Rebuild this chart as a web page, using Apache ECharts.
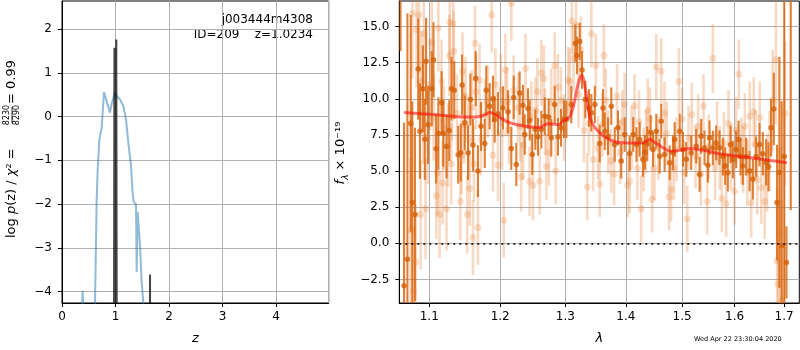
<!DOCTYPE html>
<html>
<head>
<meta charset="utf-8">
<script src="https://cdn.jsdelivr.net/npm/echarts@6/dist/echarts.min.js"></script>
<style>
  html, body { margin: 0; padding: 0; background: #fff; }
  #main { width: 800px; height: 350px; }
</style>
</head>
<body>
<div id="main"></div>
<script type="text/javascript">
// ---- left panel: log p(z) ----
var pzZ = [0.30, 0.37, 0.385, 0.40, 0.46, 0.55, 0.617, 0.648, 0.667, 0.70, 0.742, 0.785, 0.80, 0.84, 0.897, 0.93, 0.99, 1.034, 1.084, 1.116, 1.146, 1.196, 1.24, 1.29, 1.32, 1.34, 1.383, 1.396, 1.414, 1.44, 1.458, 1.49, 1.53, 1.60];
var pzLog = [-8, -4.5, -3.98, -4.5, -8, -8, -4.3, -1.9, -1.2, -0.52, -0.25, 0.56, 0.55, 0.33, 0.09, 0.3, 0.55, 0.45, 0.39, 0.35, 0.24, -0.06, -0.6, -1.12, -1.75, -1.95, -2.0, -3.55, -2.18, -2.2, -2.94, -3.8, -4.4, -8];
var spikeZ = [0.965, 0.98, 0.995, 1.0, 1.015, 1.03, 1.63, 1.645, 1.66];
var spikeLog = [-10, 1.57, -10, -10, 1.76, -10, -10, -3.61, -10];
var pzTicks = [-4, -3, -2, -1, 0, 1, 2];

// ---- right panel: spectrum ----
var darkLam = [1.0619, 1.0665, 1.0709, 1.0753, 1.0774, 1.0809, 1.0852, 1.0875, 1.0914, 1.0940,
  1.0957, 1.0983, 1.1034, 1.1057, 1.1093, 1.1124, 1.1168, 1.1191, 1.1236, 1.1273,
  1.1304, 1.1342, 1.1397, 1.1434, 1.1452, 1.1490, 1.1536, 1.1569, 1.1606, 1.1645,
  1.1677, 1.1721, 1.1775, 1.1797, 1.1846, 1.1894, 1.1919, 1.1968, 1.2041, 1.2116,
  1.2165, 1.2201, 1.2240, 1.2290, 1.2340, 1.2367, 1.2417, 1.2443, 1.2482, 1.2529,
  1.2570, 1.2622, 1.2674, 1.2736, 1.2776, 1.2830, 1.2882, 1.2930, 1.2977, 1.3016,
  1.3094, 1.3160, 1.3186, 1.3230, 1.3268, 1.3321, 1.3382, 1.3420, 1.3478, 1.3559,
  1.3614, 1.3643, 1.3698, 1.3753, 1.3811, 1.3866, 1.3922, 1.3981, 1.4066, 1.4128,
  1.4185, 1.4240, 1.4297, 1.4332, 1.4373, 1.4433, 1.4474, 1.4533, 1.4594, 1.4622,
  1.4683, 1.4774, 1.4834, 1.4865, 1.4956, 1.5017, 1.5078, 1.5170, 1.5263, 1.5326,
  1.5356, 1.5420, 1.5483, 1.5515, 1.5578, 1.5641, 1.5706, 1.5770, 1.5815, 1.5867,
  1.5920, 1.5965, 1.6030, 1.6077, 1.6116, 1.6162, 1.6228, 1.6296, 1.6362, 1.6428,
  1.6496, 1.6562, 1.6630, 1.6678, 1.6731, 1.6787, 1.6854, 1.6903, 1.6951, 1.7004,
  1.7050, 1.7140];
var darkFlux = [20, -2.93, -1.1, 8.3, 2.82, 2.0, 12.06, 7.76, 10.7, 7.2,
  12.6, 8.2, 10.7, 12.7, 6.54, 7.6, 9.72, 7.6, 6.7, 7.8,
  10.7, 10.6, 6.13, 6.27, 10.96, 8.34, 6.27, 9.95, 6.8, 11.4,
  5.0, 8.1, 6.91, 10.59, 9.49, 10.0, 8.57, 8.96, 9.37, 9.1,
  6.57, 10.1, 5.46, 10.4, 9.56, 7.53, 9.33, 8.52, 6.15, 7.87,
  7.37, 7.87, 8.8, 8.75, 7.3, 9.6, 7.37, 8.0, 8.6, 8.57,
  9.6, 13.85, 13.0, 13.97, 12.0, 9.95, 9.37, 9.03, 9.6, 6.91,
  9.37, 7.76, 7.41, 9.49, 6.84, 7.99, 5.69, 7.53, 6.22, 7.53,
  6.84, 7.19, 5.81, 6.3, 6.88, 7.69, 6.49, 7.76, 6.03, 8.45,
  6.15, 5.58, 6.27, 7.19, 7.76, 6.5, 5.81, 6.27, 6.72, 4.77,
  7.41, 6.6, 5.4, 7.3, 6.6, 6.95, 6.61, 6.0, 5.35, 4.89,
  6.84, 5.8, 6.5, 7.19, 6.0, 5.35, 6.0, 5.0, 4.43, 6.0,
  6.84, 6.2, 5.6, 5.3, 8.0, 9.3, 2.82, 4.9, -0.17, 6,
  -1.32, 18];
var darkErr = [6.7, 11.3, 17, 7.5, 7, 6, 3.5, 3.3, 3.0, 2.8,
  3.0, 2.7, 2.6, 2.6, 2.4, 2.5, 2.2, 2.3, 2.2, 2.1,
  2.2, 2.0, 2.0, 2.0, 2.1, 1.9, 1.9, 1.8, 1.8, 1.9,
  1.8, 1.7, 1.7, 1.7, 1.6, 1.6, 1.6, 1.5, 1.5, 1.5,
  1.5, 1.5, 1.5, 1.5, 1.4, 1.4, 1.4, 1.4, 1.4, 1.4,
  1.3, 1.3, 1.3, 1.3, 1.3, 1.3, 1.3, 1.3, 1.3, 1.3,
  1.3, 1.3, 1.3, 1.3, 1.3, 1.3, 1.3, 1.3, 1.3, 1.3,
  1.3, 1.3, 1.3, 1.3, 1.2, 1.2, 1.2, 1.2, 1.2, 1.2,
  1.2, 1.2, 1.2, 1.2, 1.2, 1.2, 1.2, 1.2, 1.2, 1.2,
  1.2, 1.2, 1.2, 1.2, 1.2, 1.2, 1.2, 1.2, 1.2, 1.2,
  1.2, 1.2, 1.2, 1.2, 1.2, 1.2, 1.2, 1.3, 1.3, 1.3,
  1.3, 1.3, 1.3, 1.3, 1.3, 1.3, 1.3, 1.4, 1.4, 1.4,
  1.5, 1.5, 1.6, 1.7, 2.0, 2.5, 4, 8, 10, 12,
  2.5, 15.7];

var lightLam = [1.0752, 1.0774, 1.0790, 1.0817, 1.0830, 1.0862, 1.0884, 1.0890, 1.0920, 1.0926,
  1.0950, 1.0980, 1.1010, 1.1034, 1.1060, 1.1095, 1.1110, 1.1124, 1.1140, 1.1168,
  1.1182, 1.1200, 1.1236, 1.1255, 1.1273, 1.1280, 1.1300, 1.1310, 1.1326, 1.1337,
  1.1380, 1.1428, 1.1445, 1.1458, 1.1480, 1.1500, 1.1525, 1.1540, 1.1560, 1.1590,
  1.1606, 1.1620, 1.1635, 1.1650, 1.1677, 1.1700, 1.1720, 1.1780, 1.1820, 1.1875,
  1.1894, 1.1930, 1.1968, 1.2010, 1.2030, 1.2052, 1.2077, 1.2100, 1.2130, 1.2165,
  1.2200, 1.2265, 1.2300, 1.2313, 1.2345, 1.2378, 1.2440, 1.2470, 1.2493, 1.2530,
  1.2560, 1.2596, 1.2622, 1.2660, 1.2680, 1.2700, 1.2740, 1.2776, 1.2830, 1.2845,
  1.2880, 1.2930, 1.2980, 1.3043, 1.3070, 1.3104, 1.3130, 1.3171, 1.3210, 1.3250,
  1.3300, 1.3355, 1.3380, 1.3420, 1.3450, 1.3495, 1.3530, 1.3559, 1.3600, 1.3628,
  1.3660, 1.3700, 1.3750, 1.3800, 1.3850, 1.3900, 1.3940, 1.3980, 1.4030, 1.4065,
  1.4100, 1.4150, 1.4200, 1.4230, 1.4265, 1.4310, 1.4350, 1.4380, 1.4420, 1.4460,
  1.4500, 1.4533, 1.4570, 1.4622, 1.4680, 1.4720, 1.4762, 1.4800, 1.4850, 1.4900,
  1.4942, 1.5000, 1.5040, 1.5096, 1.5120, 1.5180, 1.5250, 1.5300, 1.5350, 1.5400,
  1.5470, 1.5500, 1.5578, 1.5620, 1.5660, 1.5710, 1.5750, 1.5790, 1.5835, 1.5880,
  1.5930, 1.5998, 1.6030, 1.6082, 1.6130, 1.6170, 1.6200, 1.6250, 1.6300, 1.6329,
  1.6380, 1.6410, 1.6450, 1.6500, 1.6530, 1.6600, 1.6650, 1.6700, 1.6765, 1.6833,
  1.6854, 1.6880, 1.6920, 1.6950, 1.7020];
var lightFlux = [0.9, 15.9, -3.3, -1.3, 14.8, 15.8, 2.0, 11.2, 9.0, 14.5,
  2.4, 7.3, 11.0, 13.9, 8.7, 3.3, 4.9, 14.9, 2.0, 11.2,
  4.2, 8.0, 2.4, 6.8, 13.0, 15.3, 5.5, 9.9, 15.2, 13.3,
  9.0, 2.9, 6.1, 11.9, 8.2, 10.2, 2.0, 7.2, 3.8, 9.4,
  0.4, 5.5, 13.85, 10.5, 1.1, 11.3, 7.2, 8.9, 9.8, 15.8,
  6.1, 11.0, 5.4, 10.6, 7.6, 1.6, 12.0, 9.8, 7.9, 16.6,
  10.6, 9.4, 8.1, 4.6, 6.8, 12.1, 4.3, 8.8, 4.0, 9.2,
  10.5, 4.3, 11.8, 11.4, 8.4, 5.3, 6.3, 9.8, 12.3, 5.0,
  10.8, 9.9, 8.0, 11.3, 11.2, 15.4, 12.8, 15.1, 10.3, 13.4,
  7.8, 3.9, 8.3, 14.5, 5.8, 12.3, 6.6, 4.1, 8.2, 13.0,
  9.9, 7.0, 5.7, 4.8, 10.2, 6.3, 8.4, 9.6, 4.0, 4.3,
  7.3, 9.5, 5.2, 8.4, 2.4, 5.8, 7.0, 9.2, 8.6, 3.05,
  5.2, 12.2, 6.6, 11.9, 9.0, 7.6, 3.2, 3.7, 5.2, 6.5,
  11.2, 8.6, 4.9, 1.7, 7.3, 8.9, 6.0, 8.1, 4.8, 9.5,
  2.9, 6.7, 12.8, 5.2, 7.6, 5.9, 3.1, 6.9, 2.75, 8.3,
  6.0, 3.6, 7.8, 11.7, 6.4, 5.8, 8.1, 4.9, 8.8, 2.8,
  9.1, 6.8, 4.4, 8.7, 3.85, 2.9, 4.9, 6.4, 9.9, 12.7,
  -1.2, -2.8, 0.7, -4.0, 8.98];
var lightErr = [5.0, 4.5, 4.5, 4.0, 4.0, 4.0, 3.8, 3.5, 3.5, 3.5,
  3.5, 3.2, 3.2, 3.2, 3.0, 3.0, 3.0, 3.0, 3.0, 2.9,
  2.9, 2.9, 2.9, 2.9, 2.8, 2.8, 2.8, 2.8, 2.8, 2.8,
  2.7, 2.7, 2.7, 2.7, 2.7, 2.7, 2.7, 2.6, 2.6, 2.6,
  2.6, 2.6, 2.6, 2.6, 2.6, 2.5, 2.5, 2.5, 2.5, 2.6,
  2.5, 2.5, 2.5, 2.5, 2.5, 2.6, 2.5, 2.4, 2.4, 2.6,
  2.4, 2.4, 2.4, 2.4, 2.4, 2.4, 2.4, 2.4, 2.4, 2.3,
  2.3, 2.3, 2.3, 2.3, 2.3, 2.3, 2.3, 2.3, 2.3, 2.3,
  2.3, 2.3, 2.3, 2.3, 2.3, 2.3, 2.3, 2.3, 2.3, 2.3,
  2.2, 2.3, 2.2, 2.3, 2.2, 2.2, 2.2, 2.3, 2.2, 2.2,
  2.2, 2.2, 2.2, 2.2, 2.2, 2.2, 2.2, 2.2, 2.2, 2.2,
  2.2, 2.2, 2.2, 2.2, 2.3, 2.2, 2.2, 2.2, 2.2, 2.3,
  2.2, 2.3, 2.2, 2.3, 2.2, 2.2, 2.3, 2.2, 2.2, 2.2,
  2.3, 2.2, 2.2, 2.3, 2.2, 2.2, 2.2, 2.2, 2.2, 2.2,
  2.3, 2.2, 2.4, 2.2, 2.2, 2.2, 2.3, 2.2, 2.3, 2.3,
  2.3, 2.3, 2.3, 2.4, 2.3, 2.3, 2.3, 2.3, 2.4, 2.4,
  2.4, 2.4, 2.4, 2.5, 2.5, 2.6, 2.7, 2.8, 3.5, 4.5,
  5.0, 5.5, 6.0, 7.0, 5.0];

var modelLam = [1.0664, 1.075, 1.085, 1.100, 1.120, 1.140, 1.157, 1.170, 1.178, 1.185,
  1.192, 1.200, 1.210, 1.225, 1.245, 1.260, 1.268, 1.274, 1.281, 1.289,
  1.297, 1.302, 1.308, 1.313, 1.318, 1.323, 1.3265, 1.330, 1.334, 1.338,
  1.343, 1.348, 1.355, 1.363, 1.374, 1.385, 1.400, 1.415, 1.430, 1.437,
  1.442, 1.448, 1.456, 1.468, 1.478, 1.490, 1.503, 1.515, 1.530, 1.545,
  1.560, 1.590, 1.624, 1.660, 1.706];
var modelFlux = [9.05, 9.02, 8.98, 8.93, 8.85, 8.76, 8.74, 8.78, 8.9, 9.05,
  8.92, 8.7, 8.42, 8.2, 8.05, 8.02, 8.22, 8.27, 8.25, 8.2,
  8.5, 8.6, 8.85, 9.5, 10.6, 11.4, 11.65, 11.2, 10.2, 9.1,
  8.35, 8.0, 7.7, 7.4, 7.15, 7.0, 6.95, 6.94, 6.96, 7.1,
  7.2, 7.05, 6.85, 6.55, 6.38, 6.4, 6.5, 6.56, 6.5, 6.4,
  6.27, 6.1, 5.95, 5.78, 5.58];
var lamTicks = [1.1, 1.2, 1.3, 1.4, 1.5, 1.6, 1.7];
var fluxTicks = [-2.5, 0, 2.5, 5, 7.5, 10, 12.5, 15];

var lamMin = 1.0603, lamMax = 1.7321;
var fluxMin = -4.13, fluxMax = 16.77;

// 基于准备好的dom，初始化echarts实例
var chart = echarts.init(document.getElementById('main'));

var lg = Math.log10;
var FONT = 'DejaVu Sans';

function uminus(s) { return String(s).replace('-', '\u2212'); }

function pairs(xs, ys, fx) {
    return xs.map(function (x, i) { return [fx ? fx(x) : x, ys[i]]; });
}
function bars(lam, flux, err) {
    return lam.map(function (l, i) { return [lg(l), flux[i] - err[i], flux[i] + err[i]]; });
}
function errSeries(data, color, width) {
    return {
        type: 'custom', xAxisIndex: 1, yAxisIndex: 1, clip: true, silent: true,
        data: data,
        encode: { x: 0, y: [1, 2] },
        renderItem: function (params, api) {
            var a = api.coord([api.value(0), api.value(1)]);
            var b = api.coord([api.value(0), api.value(2)]);
            return {
                type: 'line',
                shape: { x1: a[0], y1: a[1], x2: b[0], y2: b[1] },
                style: { stroke: color, lineWidth: width }
            };
        }
    };
}

var tickLabel = { color: '#000', fontFamily: FONT, fontSize: 12 };
var gridLine = { show: true, lineStyle: { color: '#b0b0b0', width: 1 } };
var blackLine = { show: true, onZero: false, lineStyle: { color: '#000', width: 1 } };
var tickStyle = { show: true, length: 4, lineStyle: { color: '#000', width: 1 } };

var option = {
    animation: false,
    backgroundColor: '#fff',
    grid: [
        { left: 62, top: 1, width: 266.7, height: 303, show: true, borderColor: '#000', borderWidth: 1 },
        { left: 399.3, top: 1, width: 400, height: 303, show: true, borderColor: '#000', borderWidth: 1 }
    ],
    xAxis: [
        {
            type: 'value', gridIndex: 0, min: 0, max: 4.985, interval: 1,
            axisLine: blackLine, splitLine: gridLine, axisTick: tickStyle,
            axisLabel: Object.assign({ margin: 8, showMaxLabel: false }, tickLabel),
            name: 'z', nameLocation: 'middle', nameGap: 29,
            nameTextStyle: { color: '#000', fontFamily: FONT, fontSize: 13, fontStyle: 'italic' }
        },
        {
            type: 'value', gridIndex: 1, min: lg(lamMin), max: lg(lamMax),
            axisLine: blackLine, splitLine: gridLine,
            axisTick: Object.assign({ customValues: lamTicks.map(lg) }, tickStyle),
            axisLabel: Object.assign({
                customValues: lamTicks.map(lg), margin: 8,
                formatter: function (v) { return Math.pow(10, v).toFixed(1); }
            }, tickLabel),
            name: 'λ', nameLocation: 'middle', nameGap: 29,
            nameTextStyle: { color: '#000', fontFamily: FONT, fontSize: 13, fontStyle: 'italic' }
        }
    ],
    yAxis: [
        {
            type: 'value', gridIndex: 0, min: -4.26, max: 2.64,
            axisLine: blackLine, splitLine: gridLine,
            axisTick: Object.assign({ customValues: pzTicks }, tickStyle),
            axisLabel: Object.assign({
                customValues: pzTicks, margin: 10,
                formatter: function (v) { return uminus(v); }
            }, tickLabel)
        },
        {
            type: 'value', gridIndex: 1, min: fluxMin, max: fluxMax,
            axisLine: blackLine, splitLine: gridLine,
            axisTick: Object.assign({ customValues: fluxTicks }, tickStyle),
            axisLabel: Object.assign({
                customValues: fluxTicks, margin: 10,
                formatter: function (v) { return uminus(v.toFixed(1)); }
            }, tickLabel)
        }
    ],
    series: [
        {
            type: 'line', xAxisIndex: 0, yAxisIndex: 0, clip: true,
            data: pairs(pzZ, pzLog), showSymbol: false,
            lineStyle: { color: 'rgba(31,119,180,0.5)', width: 2 }
        },
        {
            type: 'line', xAxisIndex: 0, yAxisIndex: 0, clip: true,
            data: pairs(spikeZ, spikeLog), showSymbol: false,
            lineStyle: { color: 'rgba(0,0,0,0.72)', width: 2 }
        },
        errSeries(bars(lightLam, lightFlux, lightErr), 'rgba(230,120,40,0.28)', 2.6),
        {
            type: 'scatter', xAxisIndex: 1, yAxisIndex: 1,
            data: pairs(lightLam, lightFlux, lg), symbolSize: 7,
            itemStyle: { color: 'rgba(230,120,40,0.28)' }
        },
        errSeries(bars(darkLam, darkFlux, darkErr), 'rgba(217,100,10,0.82)', 2.1),
        {
            type: 'scatter', xAxisIndex: 1, yAxisIndex: 1,
            data: pairs(darkLam, darkFlux, lg), symbolSize: 5.5,
            itemStyle: { color: '#d5620a' }
        },
        {
            type: 'line', xAxisIndex: 1, yAxisIndex: 1,
            data: pairs(modelLam, modelFlux, lg), showSymbol: false, smooth: 0.3,
            lineStyle: { color: 'rgba(255,0,0,0.55)', width: 3 },
            markLine: {
                silent: true, symbol: ['none', 'none'], label: { show: false },
                lineStyle: { color: '#000', width: 1.6, type: [2, 4] },
                data: [{ yAxis: 0 }]
            }
        }
    ],
    graphic: [
        {
            type: 'text', x: 313, y: 20,
            style: { text: 'j003444m4308', align: 'right', verticalAlign: 'middle', font: '12px "DejaVu Sans"', fill: '#000' }
        },
        {
            type: 'text', x: 313, y: 35,
            style: { text: 'ID=209    z=1.0234', align: 'right', verticalAlign: 'middle', font: '12px "DejaVu Sans"', fill: '#000' }
        },
        {
            type: 'group', x: 12, y: 238, rotation: Math.PI / 2,
            children: [
                {
                    type: 'text', x: 0, y: 0,
                    style: {
                        text: '{n|log }{i|p}{n|(z) / }{i|χ}{n|² = }',
                        align: 'left', verticalAlign: 'middle',
                        rich: {
                            n: { fontFamily: FONT, fontSize: 13, fill: '#000' },
                            i: { fontFamily: FONT, fontSize: 13, fontStyle: 'italic', fill: '#000' }
                        }
                    }
                },
                { type: 'text', x: 123, y: -5, style: { text: '8230', align: 'center', verticalAlign: 'middle', font: '8px "DejaVu Sans"', fill: '#000' } },
                { type: 'line', shape: { x1: 115, y1: 0, x2: 131, y2: 0 }, style: { stroke: '#000', lineWidth: 0.8 } },
                { type: 'text', x: 123, y: 5, style: { text: '8290', align: 'center', verticalAlign: 'middle', font: '8px "DejaVu Sans"', fill: '#000' } },
                { type: 'text', x: 134, y: 0, style: { text: '= 0.99', align: 'left', verticalAlign: 'middle', font: '13px "DejaVu Sans"', fill: '#000' } }
            ]
        },
        {
            type: 'text', x: 341, y: 153, rotation: Math.PI / 2,
            style: {
                text: '{i|f}{s|λ}{n| × 10⁻¹⁹}',
                align: 'center', verticalAlign: 'middle',
                rich: {
                    i: { fontFamily: FONT, fontSize: 13, fontStyle: 'italic', fill: '#000', lineHeight: 18 },
                    s: { fontFamily: FONT, fontSize: 9, fontStyle: 'italic', fill: '#000', verticalAlign: 'bottom', lineHeight: 18 },
                    n: { fontFamily: FONT, fontSize: 13, fill: '#000', lineHeight: 18 }
                }
            }
        },
        {
            type: 'text', x: 694, y: 339,
            style: { text: 'Wed Apr 22 23:30:04 2020', align: 'left', verticalAlign: 'middle', font: '6.5px "DejaVu Sans"', fill: '#000' }
        }
    ]
};
// 使用刚指定的配置项和数据显示图表。
chart.setOption(option);
</script>
</body>
</html>
